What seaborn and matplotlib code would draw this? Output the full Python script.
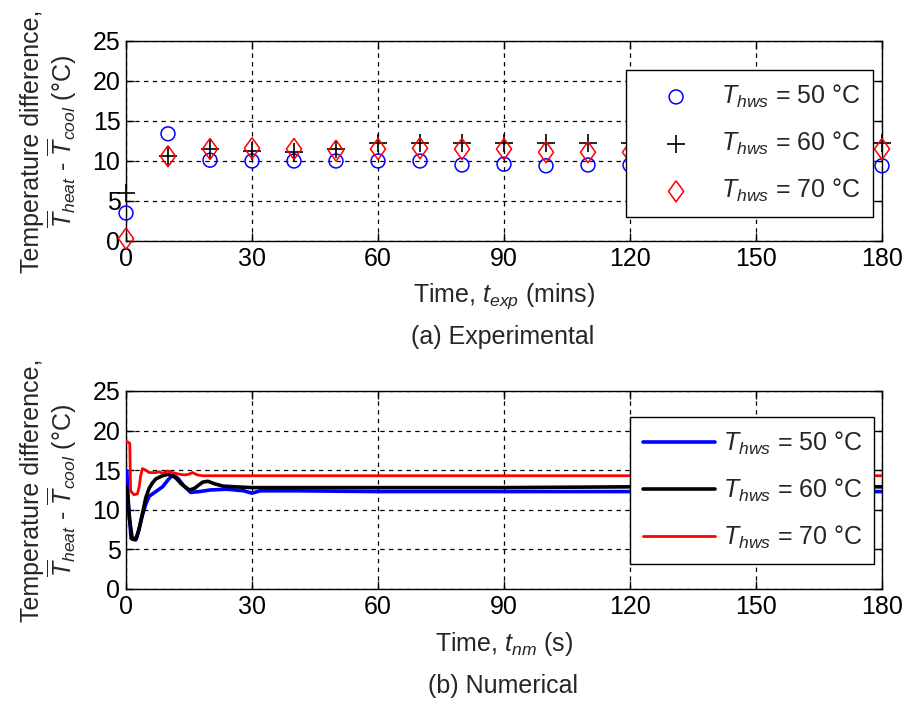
import numpy as np
import pandas as pd
import matplotlib
matplotlib.use("Agg")
import matplotlib.pyplot as plt
import seaborn as sns

# ---------------- data ----------------
t_exp = [0, 10, 20, 30, 40, 50, 60, 70, 80, 90, 100, 110, 120, 130, 140, 150, 160, 170, 180]
exp_50 = [3.5, 13.4, 10.1, 10.0, 10.0, 10.0, 10.0, 10.0, 9.5, 9.6, 9.4, 9.5, 9.5, 9.5, 9.5, 9.5, 9.5, 9.5, 9.4]
exp_60 = [6.0, 10.6, 11.5, 11.2, 11.1, 11.5, 12.2, 12.3, 12.2, 12.3, 12.2, 12.2, 12.2, 12.2, 12.2, 12.2, 12.2, 12.2, 12.2]
exp_70 = [0.3, 10.6, 11.5, 11.6, 11.5, 11.3, 11.5, 11.6, 11.5, 11.5, 11.1, 11.1, 11.1, 11.1, 11.1, 11.1, 11.1, 11.1, 11.5]

t_50 = [0, 0.2, 0.6, 1.2, 2.5, 3.1, 3.9, 4.7, 5.5, 7.1, 8.7, 9.9, 10.7, 11.5, 12.5, 13.8, 15.4, 17.5, 20, 24, 28, 30, 32, 40, 60, 90, 120, 150, 180]
num_50 = [15.0, 14.8, 10.5, 6.4, 6.4, 7.6, 9.3, 10.7, 11.7, 12.3, 12.9, 13.7, 14.2, 14.3, 13.9, 13.0, 12.2, 12.3, 12.5, 12.6, 12.4, 12.1, 12.4, 12.4, 12.3, 12.3, 12.3, 12.3, 12.3]

t_60 = [0, 0.3, 0.8, 1.5, 2.3, 3.1, 3.9, 4.7, 5.5, 6.3, 7.1, 8.7, 10.1, 11.7, 13.3, 15.1, 16.3, 17.5, 18.3, 19.5, 21, 23, 26, 30, 40, 60, 90, 120, 150, 180]
num_60 = [13.0, 12.5, 9.0, 6.3, 6.2, 7.5, 9.5, 11.5, 12.7, 13.4, 13.9, 14.3, 14.5, 14.1, 13.2, 12.5, 12.7, 13.2, 13.5, 13.6, 13.3, 13.0, 12.9, 12.8, 12.8, 12.8, 12.8, 12.9, 12.9, 12.9]

t_70 = [0, 0.3, 0.9, 1.1, 1.9, 2.7, 3.1, 3.5, 3.9, 4.7, 5.5, 7.1, 7.9, 8.7, 9.9, 11.1, 12.6, 14.0, 15.0, 15.8, 17.0, 18.2, 20, 30, 60, 90, 120, 150, 180]
num_70 = [18.6, 18.6, 18.4, 12.4, 11.9, 12.0, 12.8, 14.3, 15.2, 15.0, 14.7, 14.7, 14.8, 14.6, 14.9, 14.7, 14.5, 14.4, 14.5, 14.7, 14.4, 14.3, 14.3, 14.3, 14.3, 14.3, 14.3, 14.3, 14.3]

labels = [r"$T_{hws}$ = 50 °C", r"$T_{hws}$ = 60 °C", r"$T_{hws}$ = 70 °C"]
colors = ["#0000ff", "#000000", "#ff0000"]
xticks = [0, 30, 60, 90, 120, 150, 180]
yticks = [0, 5, 10, 15, 20, 25]

# ---------------- style ----------------
sns.set_style("ticks")
plt.rcParams["font.family"] = ["Liberation Sans", "DejaVu Sans"]
plt.rcParams["mathtext.fontset"] = "custom"
plt.rcParams["mathtext.rm"] = "Liberation Sans"
plt.rcParams["mathtext.it"] = "Liberation Sans:italic"
plt.rcParams["mathtext.bf"] = "Liberation Sans:bold"
FS = 18

W, H = 909, 704
fig = plt.figure(figsize=(W / 100, H / 100), dpi=100)
ax1 = fig.add_axes([126 / W, 1 - 241 / H, 756 / W, 200 / H])
ax2 = fig.add_axes([126 / W, 1 - 589 / H, 756 / W, 198 / H])

df_exp = pd.DataFrame({"t": t_exp * 3,
                       "v": exp_50 + exp_60 + exp_70,
                       "s": [labels[0]] * len(t_exp) + [labels[1]] * len(t_exp) + [labels[2]] * len(t_exp)})

diamond = [(0, 1), (0.72, 0), (0, -1), (-0.72, 0), (0, 1)]
markers = ["o", "+", diamond]
sizes = [100, 150, 230]
for lab, col, mk, sz in zip(labels, colors, markers, sizes):
    sub = df_exp[df_exp["s"] == lab]
    if isinstance(mk, str) and mk == "+":
        sns.scatterplot(data=sub, x="t", y="v", ax=ax1, marker=mk, s=sz, color=col,
                        linewidth=1.2, label=lab, zorder=3, clip_on=False)
    else:
        sns.scatterplot(data=sub, x="t", y="v", ax=ax1, marker=mk, s=sz, facecolor="none",
                        edgecolor=col, linewidth=1.1, label=lab, zorder=3, clip_on=False)

df_num = pd.concat([
    pd.DataFrame({"t": t_50, "v": num_50, "s": labels[0]}),
    pd.DataFrame({"t": t_60, "v": num_60, "s": labels[1]}),
    pd.DataFrame({"t": t_70, "v": num_70, "s": labels[2]}),
])
lws = [2.6, 2.6, 2.0]
for lab, col, lw in zip(labels, colors, lws):
    sub = df_num[df_num["s"] == lab]
    sns.lineplot(data=sub, x="t", y="v", ax=ax2, color=col, linewidth=lw, label=lab,
                 sort=False, estimator=None, zorder=3)

ylab = "Temperature difference,\n" + r"$\overline{T}_{heat}$ - $\overline{T}_{cool}$ (°C)"
for ax, xl in [(ax1, r"Time, $t_{exp}$ (mins)"), (ax2, r"Time, $t_{nm}$ (s)")]:
    ax.set_xlim(0, 180)
    ax.set_ylim(0, 25)
    ax.set_xticks(xticks)
    ax.set_yticks(yticks)
    ax.tick_params(direction="in", top=True, right=True, length=6, width=1,
                   labelsize=FS, pad=4, color="black", labelcolor="black")
    ax.grid(True, color="black", linestyle=(0, (3.5, 3.5)), linewidth=0.9)
    ax.set_axisbelow(True)
    for sp in ax.spines.values():
        sp.set_visible(True)
        sp.set_color("black")
        sp.set_linewidth(1.0)
    ax.set_xlabel(xl, fontsize=FS, labelpad=8)
    ax.set_ylabel(ylab, fontsize=FS, labelpad=10, linespacing=1.05)

leg1 = ax1.legend(loc="upper right", bbox_to_anchor=(0.988, 0.855), fontsize=FS,
                  frameon=True, fancybox=False, framealpha=1, edgecolor="black",
                  handletextpad=0.3, labelspacing=0.8, borderpad=0.5, handlelength=3.0,
                  borderaxespad=0)
leg1.get_frame().set_linewidth(1.0)
leg2 = ax2.legend(loc="upper right", bbox_to_anchor=(0.99, 0.869), fontsize=FS,
                  frameon=True, fancybox=False, framealpha=1, edgecolor="black",
                  handletextpad=0.3, labelspacing=0.8, borderpad=0.5, handlelength=2.9,
                  borderaxespad=0)
leg2.get_frame().set_linewidth(1.0)

fig.text(503 / W, 1 - 337 / H, "(a) Experimental", ha="center", va="center", fontsize=FS)
fig.text(503 / W, 1 - 686 / H, "(b) Numerical", ha="center", va="center", fontsize=FS)

fig.savefig("out.png", dpi=100, facecolor="white")
